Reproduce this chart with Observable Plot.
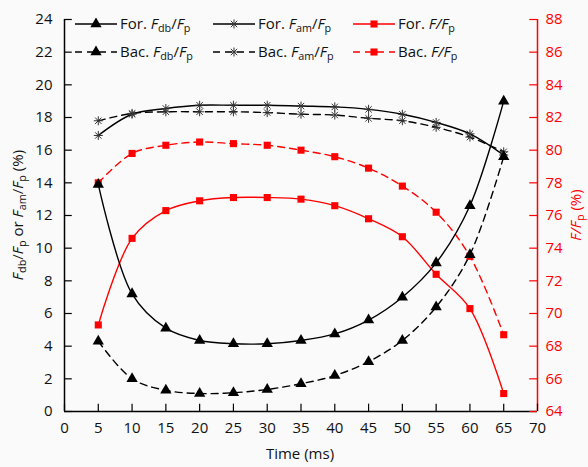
<!DOCTYPE html>
<html><head><meta charset="utf-8">
<script src="https://cdn.jsdelivr.net/npm/d3@7"></script>
<script src="https://cdn.jsdelivr.net/npm/@observablehq/plot@0.6"></script>
<style>body{margin:0;background:#fff;} svg{background:#fafafa;display:block}</style>
</head><body><div id="chart"></div>
<script>
const time = [5, 10, 15, 20, 25, 30, 35, 40, 45, 50, 55, 60, 65];
const forFdb = [13.9, 7.2, 5.1, 4.35, 4.15, 4.15, 4.35, 4.75, 5.6, 7.0, 9.1, 12.6, 19.0];
const bacFdb = [4.3, 2.0, 1.3, 1.1, 1.15, 1.35, 1.7, 2.2, 3.05, 4.35, 6.4, 9.6, 15.6];
const forFam = [16.9, 18.2, 18.55, 18.75, 18.75, 18.75, 18.7, 18.65, 18.5, 18.2, 17.7, 17.0, 15.7];
const bacFam = [17.8, 18.25, 18.35, 18.35, 18.35, 18.3, 18.2, 18.15, 17.95, 17.8, 17.4, 16.8, 15.9];
const forF = [69.3, 74.6, 76.3, 76.9, 77.1, 77.1, 77.0, 76.6, 75.8, 74.7, 72.4, 70.3, 65.1];
const bacF = [78.0, 79.8, 80.3, 80.5, 80.4, 80.3, 80.0, 79.6, 78.9, 77.8, 76.2, 73.5, 68.7];
const xTicks = [0, 5, 10, 15, 20, 25, 30, 35, 40, 45, 50, 55, 60, 65, 70];
const leftTicks = [0, 2, 4, 6, 8, 10, 12, 14, 16, 18, 20, 22, 24];
const rightTicks = [64, 66, 68, 70, 72, 74, 76, 78, 80, 82, 84, 86, 88];

const RMIN = rightTicks[0];
const rows = vals => time.map((t, i) => ({t, v: vals[i]}));
const rowsR = vals => time.map((t, i) => ({t, v: vals[i] - RMIN}));

const star = {
  draw(ctx, size) {
    const r = Math.sqrt(size / Math.PI);
    const d = r * Math.SQRT1_2;
    ctx.moveTo(-r, 0); ctx.lineTo(r, 0);
    ctx.moveTo(0, -r); ctx.lineTo(0, r);
    ctx.moveTo(-d, -d); ctx.lineTo(d, d);
    ctx.moveTo(-d, d); ctx.lineTo(d, -d);
  }
};

const DASH = "7,5";
const RED = "#ff0000";
const curve = "catmull-rom";
const lw = 1.4;

const plot = Plot.plot({
  width: 588, height: 467,
  marginLeft: 64, marginRight: 51, marginTop: 19, marginBottom: 56,
  style: {fontFamily: "'Open Sans', sans-serif", fontSize: "15px", background: "#fafafa", overflow: "visible"},
  x: {domain: [0, 70]},
  y: {domain: [0, 24]},
  marks: [
    Plot.ruleX([0], {stroke: "black", strokeWidth: 1.5}),
    Plot.ruleY([0], {stroke: "black", strokeWidth: 1.5}),
    Plot.ruleX([70], {stroke: RED, strokeWidth: 1.5}),
    Plot.ruleX(xTicks, {y1: 0, y2: 0.45, stroke: "black", strokeWidth: 1.2}),
    Plot.ruleY(leftTicks, {x1: 0, x2: 1.15, stroke: "black", strokeWidth: 1.2}),
    Plot.ruleY(rightTicks.map(v => v - RMIN), {x1: 68.85, x2: 70, stroke: RED, strokeWidth: 1.2}),
    Plot.axisX({ticks: xTicks, tickSize: 0, tickPadding: 11, label: null, fill: "#111"}),
    Plot.axisY({ticks: leftTicks, tickSize: 0, tickPadding: 12, anchor: "left", label: null, fill: "#111"}),
    Plot.axisY({ticks: rightTicks.map(v => v - RMIN), tickFormat: d => d + RMIN, tickSize: 0, tickPadding: 8, anchor: "right", label: null, fill: RED}),

    Plot.line(rows(forFam), {x: "t", y: "v", curve, stroke: "black", strokeWidth: lw}),
    Plot.line(rows(bacFam), {x: "t", y: "v", curve, stroke: "black", strokeWidth: lw, strokeDasharray: DASH}),
    Plot.line(rowsR(forF), {x: "t", y: "v", curve, stroke: RED, strokeWidth: lw}),
    Plot.line(rowsR(bacF), {x: "t", y: "v", curve, stroke: RED, strokeWidth: lw, strokeDasharray: DASH}),
    Plot.line(rows(forFdb), {x: "t", y: "v", curve, stroke: "black", strokeWidth: lw}),
    Plot.line(rows(bacFdb), {x: "t", y: "v", curve, stroke: "black", strokeWidth: lw, strokeDasharray: DASH}),

    Plot.dot(rows(forFam), {x: "t", y: "v", symbol: star, r: 4.5, stroke: "#333", strokeWidth: 1, fill: "none"}),
    Plot.dot(rows(bacFam), {x: "t", y: "v", symbol: star, r: 4.5, stroke: "#333", strokeWidth: 1, fill: "none"}),
    Plot.dot(rowsR(forF), {x: "t", y: "v", symbol: "square", r: 4, fill: RED, stroke: "none"}),
    Plot.dot(rowsR(bacF), {x: "t", y: "v", symbol: "square", r: 4, fill: RED, stroke: "none"}),
    Plot.dot(rows(forFdb), {x: "t", y: "v", symbol: "triangle", r: 4.2, fill: "black", stroke: "none"}),
    Plot.dot(rows(bacFdb), {x: "t", y: "v", symbol: "triangle", r: 4.2, fill: "black", stroke: "none"})
  ]
});

document.getElementById("chart").appendChild(plot);
const svg = d3.select(plot);
const FONT = "'Open Sans', sans-serif";

function richText(sel, parts) {
  parts.forEach(([txt, st]) => {
    const t = sel.append("tspan").text(txt);
    if (st && st.includes("i")) t.attr("font-style", "italic");
    if (st && st.includes("s")) t.attr("font-size", "0.72em").attr("baseline-shift", "-25%");
  });
}

// Axis titles
svg.append("text").attr("x", 300).attr("y", 459).attr("text-anchor", "middle")
  .attr("font-family", FONT).attr("font-size", 15).attr("fill", "#111").text("Time (ms)");

const lt = svg.append("text").attr("transform", "translate(23,215) rotate(-90)").attr("text-anchor", "middle")
  .attr("font-family", FONT).attr("font-size", 15).attr("fill", "#111");
richText(lt, [["F", "i"], ["db", "s"], ["/", ""], ["F", "i"], ["p", "s"], [" or ", ""], ["F", "i"], ["am", "s"], ["/", ""], ["F", "i"], ["p", "s"], [" (%)", ""]]);

const rt = svg.append("text").attr("transform", "translate(581,215) rotate(-90)").attr("text-anchor", "middle")
  .attr("font-family", FONT).attr("font-size", 15).attr("fill", RED);
richText(rt, [["F", "i"], ["/", "i"], ["F", "i"], ["p", "s"], [" (%)", ""]]);

// Legend
const legend = [
  {x: 75, y: 24, dash: null, color: "black", sym: "tri", label: [["For. ", ""], ["F", "i"], ["db", "s"], ["/", ""], ["F", "i"], ["p", "s"]]},
  {x: 213, y: 24, dash: null, color: "black", sym: "star", label: [["For. ", ""], ["F", "i"], ["am", "s"], ["/", ""], ["F", "i"], ["p", "s"]]},
  {x: 353, y: 24, dash: null, color: RED, sym: "sq", label: [["For. ", ""], ["F", "i"], ["/", "i"], ["F", "i"], ["p", "s"]]},
  {x: 75, y: 52, dash: DASH, color: "black", sym: "tri", label: [["Bac. ", ""], ["F", "i"], ["db", "s"], ["/", ""], ["F", "i"], ["p", "s"]]},
  {x: 213, y: 52, dash: DASH, color: "black", sym: "star", label: [["Bac. ", ""], ["F", "i"], ["am", "s"], ["/", ""], ["F", "i"], ["p", "s"]]},
  {x: 353, y: 52, dash: DASH, color: RED, sym: "sq", label: [["Bac. ", ""], ["F", "i"], ["/", "i"], ["F", "i"], ["p", "s"]]}
];
const lg = svg.append("g").attr("text-anchor", "start");
legend.forEach(L => {
  const g = lg.append("g").attr("transform", `translate(${L.x},${L.y})`);
  g.append("line").attr("x1", 0).attr("x2", 42).attr("y1", 0).attr("y2", 0)
    .attr("stroke", L.color).attr("stroke-width", lw).attr("stroke-dasharray", L.dash ? "7,5" : null);
  const cx = 21;
  if (L.sym === "tri") {
    g.append("path").attr("transform", `translate(${cx},0)`).attr("d", d3.symbol(d3.symbolTriangle, Math.PI * 17.6)()).attr("fill", "black");
  } else if (L.sym === "sq") {
    g.append("path").attr("transform", `translate(${cx},0)`).attr("d", d3.symbol(d3.symbolSquare, Math.PI * 16)()).attr("fill", RED);
  } else {
    g.append("path").attr("transform", `translate(${cx},0)`).attr("d", d3.symbol(star, Math.PI * 20.25)()).attr("fill", "none").attr("stroke", "#333").attr("stroke-width", 1);
  }
  const t = g.append("text").attr("x", 45).attr("y", 5).attr("text-anchor", "start").attr("font-family", FONT).attr("font-size", 15).attr("fill", "#111");
  richText(t, L.label);
});
</script>
</body></html>
